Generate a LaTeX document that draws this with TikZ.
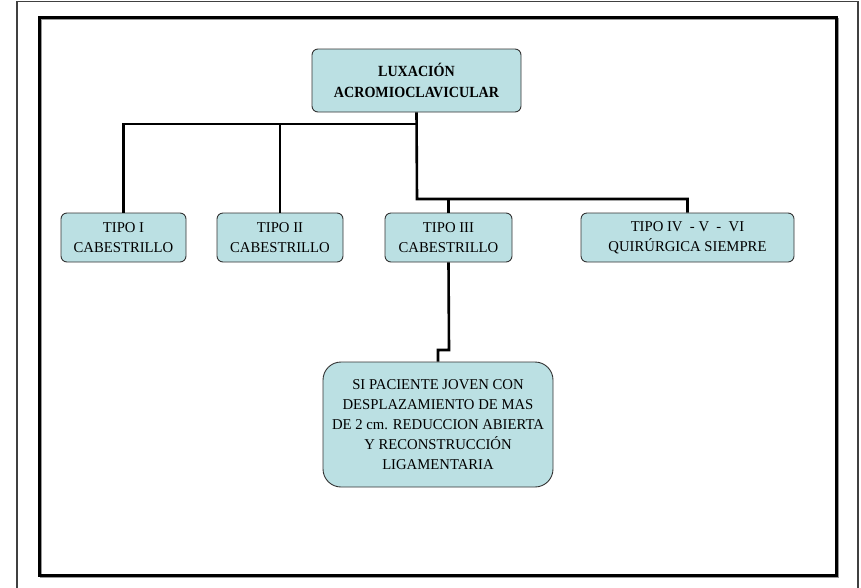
\documentclass[tikz,border=0pt]{standalone}
\usepackage{fontspec}
\setmainfont{Liberation Serif}
\newfontfamily\condfont[FakeStretch=0.98]{Liberation Serif}
\newfontfamily\boldcondfont[FakeStretch=0.91]{Liberation Serif Bold}
\begin{document}
\begin{tikzpicture}[x=1pt,y=-1pt,
  box/.style={draw=black!80,line width=0.9pt,fill=boxfill,rounded corners=6pt,
    align=center,inner sep=0pt,font=\condfont\fontsize{15}{19.8}\selectfont},
  link/.style={line width=2.6pt,black}]
\definecolor{boxfill}{HTML}{BBE0E3}
\useasboundingbox (0,0) rectangle (861,587);
% frames
\draw[line width=1.4pt,black!75] (17,590) -- (17,1.5) -- (858,1.5) -- (858,590);
\draw[line width=1.2pt,black!40] (41,19) rectangle (838,577);
\draw[line width=3pt,black] (39,17) rectangle (836,575);
% nodes
\node[box,font=\boldcondfont\fontsize{15.5}{21}\selectfont,minimum width=209pt,minimum height=63pt] (top) at (416.5,80.5) {LUXACIÓN\\ACROMIOCLAVICULAR};
\node[box,minimum width=125pt,minimum height=49pt] (t1) at (123.5,237.5) {TIPO I\\CABESTRILLO};
\node[box,minimum width=126pt,minimum height=49pt] (t2) at (280,237.5) {TIPO II\\CABESTRILLO};
\node[box,minimum width=127pt,minimum height=49pt] (t3) at (448.5,237.5) {TIPO III\\CABESTRILLO};
\node[box,minimum width=213pt,minimum height=49pt] (t4) at (687.5,237.5) {TIPO IV~ - V~ - ~VI\\QUIRÚRGICA SIEMPRE};
\node[box,rounded corners=18pt,minimum width=230pt,minimum height=125pt] (bot) at (438,424.5) {SI PACIENTE JOVEN CON\\DESPLAZAMIENTO DE MAS\\DE 2 cm. REDUCCION ABIERTA\\Y RECONSTRUCCIÓN\\LIGAMENTARIA};
% junctions
\coordinate (j1) at (417,124);
\coordinate (j2) at (417,199);
% connectors
\draw[link] (top.south) -- (j2) -| (t4.north);
\draw[link] (j1) -| (t1.north);
\draw[link] (j1 -| t2.north) -- (t2.north);
\draw[link] (j2 -| t3.north) -- (t3.north);
\coordinate (k1) at (449,350);
\draw[link] (t3.south) -- (k1) -| (bot.north);
\end{tikzpicture}
\end{document}
